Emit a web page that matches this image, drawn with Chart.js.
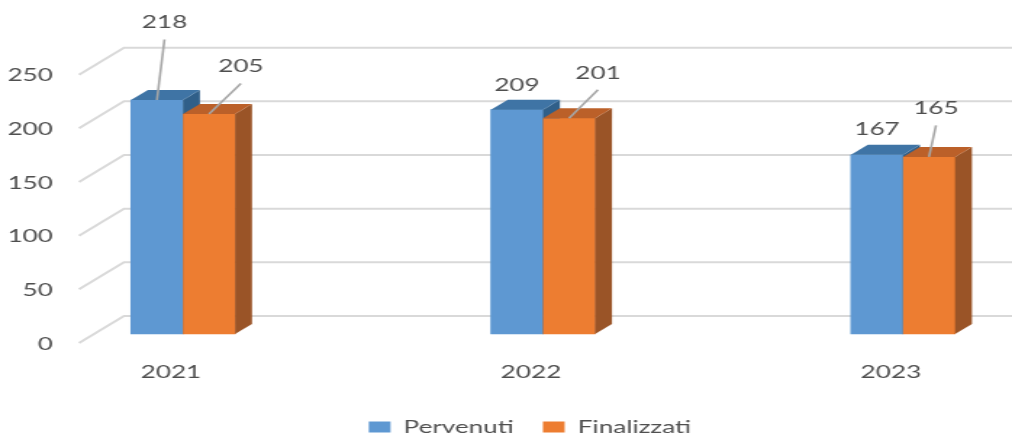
<!DOCTYPE html>
<html>
<head>
<meta charset="utf-8">
<script src="https://cdn.jsdelivr.net/npm/chart.js"></script>
<style>
  html, body { margin: 0; padding: 0; background: #fff; overflow: hidden; }
  /* the reference is stretched sideways, so the chart is drawn narrow and widened */
  #wrap { width: 698px; height: 450px; transform: scaleX(1.44986); transform-origin: 0 0; }
</style>
</head>
<body>
<div id="wrap"><canvas id="myChart" width="698" height="450"></canvas></div>
<script>
var years = ['2021', '2022', '2023']
var pervenuti = [218, 209, 167]
var finalizzati = [205, 201, 165]
var yTicks = [0, 50, 100, 150, 200, 250]

// where each value label sits, relative to the top of its bar (px)
var labelDx = [[5.2, 0, 0], [22, 20, 4.8]]
var labelDy = [[-78, -25, -26], [-48, -46, -49]]

var textGray = '#4f4f4f'
var depthX = 11.7, depthY = -10
var faces = [
    {front: '#5e98d2', top: '#3f74a5', side: '#305f89'},
    {front: '#ed7d31', top: '#bb6029', side: '#9a5427'}
]

Chart.defaults.font.family = 'Lato'
Chart.defaults.font.size = 18
Chart.defaults.color = textGray

var wallGrid = {
    id: 'wallGrid',
    beforeDatasetsDraw: function(chart) {
        var ctx = chart.ctx, y = chart.scales.y
        ctx.save()
        ctx.strokeStyle = '#d9d9d9'
        ctx.lineWidth = 2
        y.ticks.forEach(function(t) {
            var py = y.getPixelForValue(t.value)
            ctx.beginPath()
            ctx.moveTo(54.5, py + 9)
            ctx.lineTo(85.5, py - 18)
            ctx.lineTo(chart.width, py - 18)
            ctx.stroke()
        })
        ctx.restore()
    }
}

var bars3d = {
    id: 'bars3d',
    afterDatasetsDraw: function(chart) {
        var ctx = chart.ctx
        ctx.save()
        years.forEach(function(yr, i) {
            chart.data.datasets.forEach(function(ds, d) {
                var el = chart.getDatasetMeta(d).data[i]
                var p = el.getProps(['x', 'y', 'base', 'width'], true)
                var x0 = p.x - p.width / 2, x1 = p.x + p.width / 2
                ctx.fillStyle = faces[d].front
                ctx.fillRect(x0, p.y, p.width, p.base - p.y)
                ctx.fillStyle = faces[d].side
                ctx.beginPath()
                ctx.moveTo(x1, p.y)
                ctx.lineTo(x1 + depthX, p.y + depthY)
                ctx.lineTo(x1 + depthX, p.base + depthY)
                ctx.lineTo(x1, p.base)
                ctx.closePath()
                ctx.fill()
                ctx.fillStyle = faces[d].top
                ctx.beginPath()
                ctx.moveTo(x0, p.y)
                ctx.lineTo(x1, p.y)
                ctx.lineTo(x1 + depthX, p.y + depthY)
                ctx.lineTo(x0 + depthX, p.y + depthY)
                ctx.closePath()
                ctx.fill()
            })
        })
        ctx.restore()
    }
}

var valueLabels = {
    id: 'valueLabels',
    afterDraw: function(chart) {
        var ctx = chart.ctx
        ctx.save()
        ctx.font = '18px Lato'
        ctx.textAlign = 'center'
        ctx.textBaseline = 'middle'
        chart.data.datasets.forEach(function(ds, d) {
            chart.getDatasetMeta(d).data.forEach(function(el, i) {
                var lx = el.x + labelDx[d][i]
                var ly = el.y + labelDy[d][i]
                if (labelDy[d][i] < -35) {
                    ctx.strokeStyle = '#a6a6a6'
                    ctx.lineWidth = 1.6
                    ctx.beginPath()
                    ctx.moveTo(lx, ly + 17.5)
                    ctx.lineTo(el.x, el.y)
                    ctx.stroke()
                }
                ctx.fillStyle = textGray
                ctx.fillText(ds.data[i], lx, ly + 0.6)
            })
        })
        ctx.restore()
    }
}

var chart = new Chart(document.getElementById('myChart'), {
    type: 'bar',
    data: {
        labels: years,
        datasets: [
            {label: 'Pervenuti', data: pervenuti, backgroundColor: faces[0].front, borderWidth: 0, barThickness: 35.9, clip: false},
            {label: 'Finalizzati', data: finalizzati, backgroundColor: faces[1].front, borderWidth: 0, barThickness: 35.9, clip: false}
        ]
    },
    options: {
        responsive: false,
        animation: false,
        devicePixelRatio: 1,
        // negative right padding widens the legend box so the legend sits where the reference has it
        layout: {padding: {left: 0, right: -33, top: 65.65, bottom: 4}},
        scales: {
            x: {
                offset: false,
                grid: {display: false, drawTicks: false},
                border: {display: false},
                ticks: {padding: 27, labelOffset: -8.3, maxRotation: 0},
                afterFit: function(scale) { scale.height = 64 }
            },
            y: {
                min: yTicks[0],
                max: yTicks[yTicks.length - 1],
                grid: {display: false, drawTicks: false},
                border: {display: false},
                ticks: {stepSize: 50, padding: 89.7, labelOffset: 10},
                afterFit: function(scale) {
                    scale.width = 126.2
                    scale.paddingTop = 0
                    scale.paddingBottom = 0
                }
            },
            yRight: {
                type: 'linear',
                position: 'right',
                grid: {display: false, drawTicks: false},
                border: {display: false},
                ticks: {display: false, padding: 0},
                afterFit: function(scale) {
                    scale.width = 108.2
                    scale.paddingTop = 0
                    scale.paddingBottom = 0
                }
            }
        },
        plugins: {
            legend: {
                position: 'bottom',
                labels: {boxWidth: 15, boxHeight: 11, padding: 20, color: textGray}
            },
            tooltip: {enabled: false}
        }
    },
    plugins: [wallGrid, bars3d, valueLabels]
})
</script>
</body>
</html>
